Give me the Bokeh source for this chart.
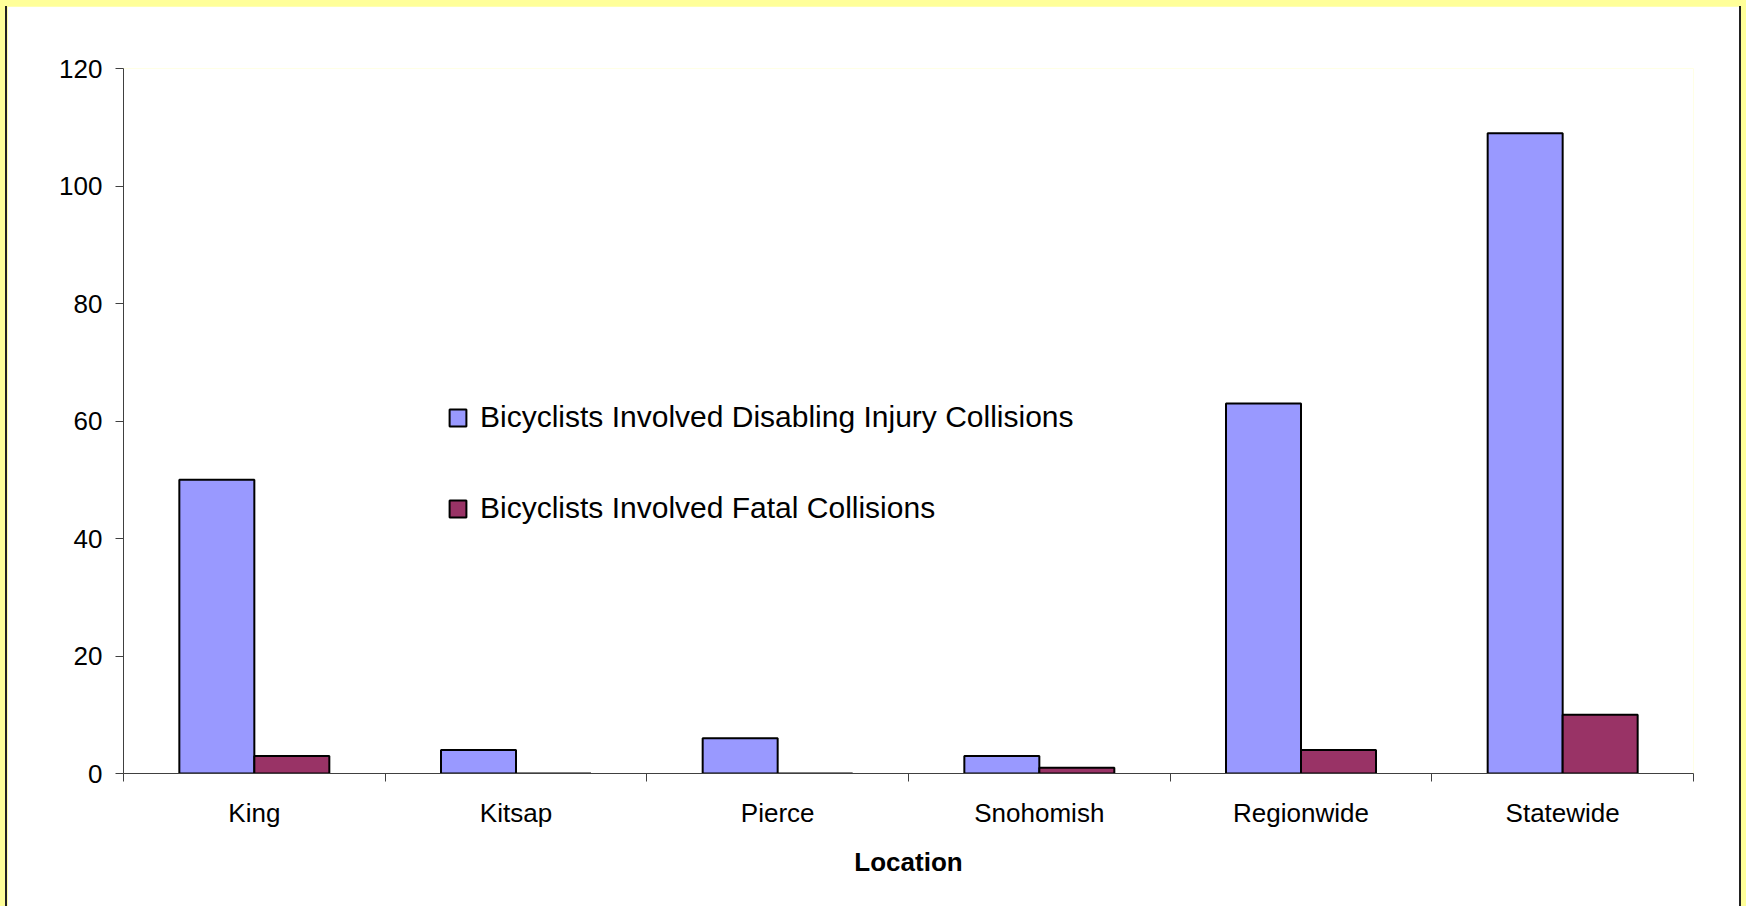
from bokeh.plotting import figure
from bokeh.models import (ColumnDataSource, Range1d, FixedTicker, Legend, LegendItem,
                          GlobalInlineStyleSheet)
from bokeh.embed import file_html
from bokeh.resources import INLINE

# ---- data ----
locations = ["King", "Kitsap", "Pierce", "Snohomish", "Regionwide", "Statewide"]
disabling_injury = [50, 4, 6, 3, 63, 109]
fatal = [3, 0, 0, 1, 4, 10]
y_ticks = [0, 20, 40, 60, 80, 100, 120]
series_names = ["Bicyclists Involved Disabling Injury Collisions",
                "Bicyclists Involved Fatal Collisions"]
x_title = "Location"

BLUE = "#9999FF"
RED = "#993366"
AXIS = "#404040"
FONT = "Liberation Sans"

bw = 0.2866
centers = [i + 0.5 for i in range(len(locations))]
src = ColumnDataSource(dict(
    xb=[c - bw / 2 for c in centers],
    xr=[c + bw / 2 for c in centers],
    dis=disabling_injury,
    fat=fatal,
))

p = figure(width=1732, height=900,
           x_range=Range1d(0, len(locations)), y_range=Range1d(y_ticks[0], y_ticks[-1]),
           output_backend="svg", toolbar_location=None,
           min_border_left=116, min_border_top=62, min_border_right=46, min_border_bottom=133)
p.stylesheets = [GlobalInlineStyleSheet(
    css="html, body{background:#FFFF99 !important; margin:0 !important;} "
        "body{padding:6px 0 0 7px !important; box-sizing:border-box;}")]
p.styles = {"box-shadow": "-2px 0 0 0 #222222, 2px 0 0 0 #222222"}
p.outline_line_color = None
p.background_fill_color = "white"
p.border_fill_color = "white"
p.xgrid.visible = False
p.ygrid.visible = False

r1 = p.vbar(x="xb", top="dis", bottom=0, width=bw, source=src,
            fill_color=BLUE, line_color="black", line_width=2)
r2 = p.vbar(x="xr", top="fat", bottom=0, width=bw, source=src,
            fill_color=RED, line_color="black", line_width=2)

# x axis
xa = p.xaxis[0]
xa.ticker = FixedTicker(ticks=centers, minor_ticks=list(range(len(locations) + 1)))
xa.major_label_overrides = {c: name for c, name in zip(centers, locations)}
xa.major_tick_out = 0
xa.major_tick_in = 0
xa.minor_tick_out = 8
xa.minor_tick_in = 0
xa.minor_tick_line_color = AXIS
xa.axis_line_color = AXIS
xa.major_label_text_font = FONT
xa.major_label_text_font_size = "26px"
xa.major_label_text_color = "black"
xa.major_label_standoff = 16
xa.axis_label = x_title
xa.axis_label_text_font = FONT
xa.axis_label_text_font_size = "26px"
xa.axis_label_text_font_style = "bold"
xa.axis_label_text_color = "black"
xa.axis_label_standoff = 16

# y axis
ya = p.yaxis[0]
ya.ticker = FixedTicker(ticks=y_ticks, minor_ticks=[])
ya.major_tick_out = 8
ya.major_tick_in = 0
ya.major_tick_line_color = AXIS
ya.minor_tick_line_color = None
ya.axis_line_color = AXIS
ya.major_label_text_font = FONT
ya.major_label_text_font_size = "26px"
ya.major_label_text_color = "black"
ya.major_label_standoff = 13

legend = Legend(items=[LegendItem(label=series_names[0], renderers=[r1]),
                       LegendItem(label=series_names[1], renderers=[r2])],
                location=(324, 248), border_line_color=None, background_fill_alpha=0,
                padding=0, margin=0, spacing=57, glyph_width=21, glyph_height=21,
                label_standoff=12, label_text_font=FONT, label_text_font_size="30px",
                label_text_color="black")
p.add_layout(legend)

open("out.html", "w").write(file_html(p, INLINE))
